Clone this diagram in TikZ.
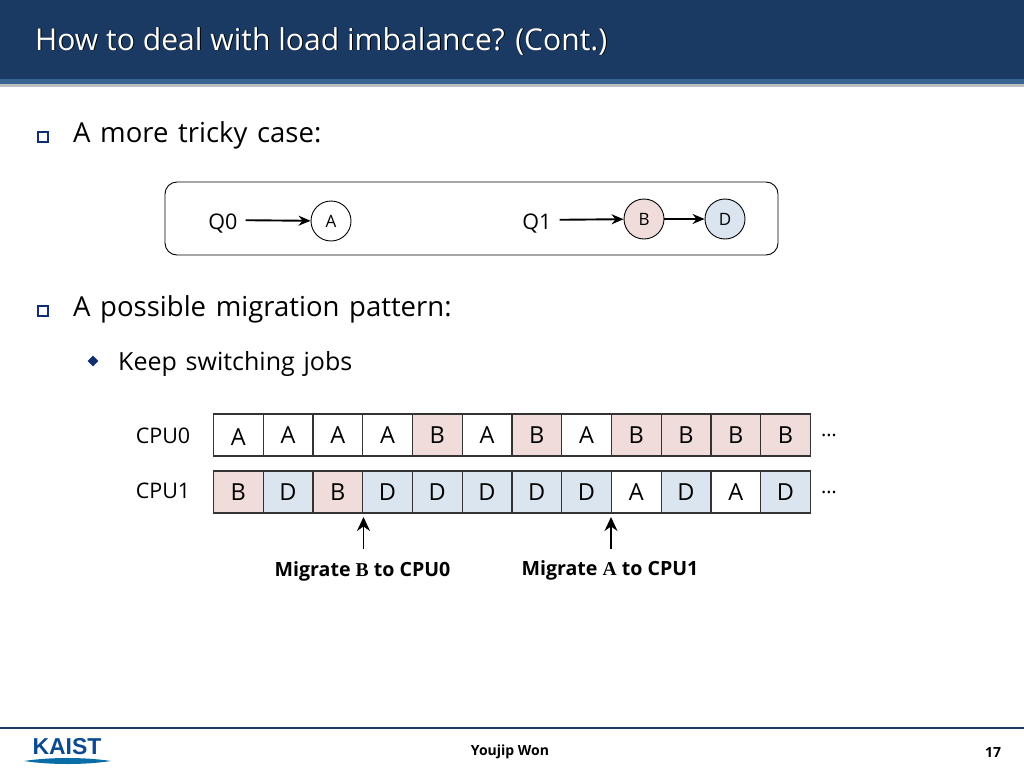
\documentclass[tikz,border=0pt]{standalone}
\usepackage{fontspec}
\setmainfont{Open Sans}
\newfontfamily\bodyfont[WordSpace=1.35]{Open Sans}
\newfontfamily\logofont{Liberation Sans}
\newfontfamily\codefont{Liberation Serif}
\usetikzlibrary{shapes.geometric,arrows.meta}
\definecolor{headblue}{HTML}{1A3A63}
\definecolor{bandblue}{HTML}{3A6592}
\definecolor{bulletblue}{HTML}{0F2F6E}
\definecolor{jobpink}{HTML}{F0DCDB}
\definecolor{jobblue}{HTML}{DBE5F0}
\definecolor{logoblue}{HTML}{0B4A91}
\tikzset{
  cellA/.style={draw=black!80,line width=1.2pt,minimum width=49.75pt,minimum height=42pt,inner sep=0pt,font=\fontsize{23.5}{23.5}\selectfont},
  cellB/.style={cellA,fill=jobpink},
  cellD/.style={cellA,fill=jobblue},
  job/.style={circle,draw=black,line width=.9pt,minimum size=40pt,inner sep=0pt,font=\fontsize{17}{17}\selectfont},
  body/.style={anchor=base west,inner sep=0pt,font=\bodyfont\fontsize{27.5}{27.5}\selectfont},
  label/.style={inner sep=0pt,font=\fontsize{21.5}{21.5}\selectfont},
  arrow/.style={-{Stealth[length=12pt,width=10pt]},line width=1.9pt},
  migarrow/.style={-{Stealth[length=14pt,width=13pt]},line width=1.5pt},
  migrate/.style={inner sep=0pt,font=\fontsize{19.6}{19.6}\selectfont\bfseries},
  squarebullet/.style={draw=bulletblue,line width=2.4pt,fill=white,minimum size=10.5pt,inner sep=0pt},
  footer/.style={inner sep=0pt,font=\fontsize{14}{14}\selectfont\bfseries},
}
\begin{document}
\begin{tikzpicture}[x=1pt,y=-1pt]
    \useasboundingbox (0,0) rectangle (1024,768);
    % header
    \fill[black!25] (0,84) rectangle (1024,87);
    \fill[headblue] (0,0) rectangle (1024,79);
    \fill[bandblue] (0,79) rectangle (1024,84);
    \node[anchor=base west,inner sep=0pt,text=black,font=\fontsize{30.1}{30.1}\selectfont] (titleshadow) at (36,51) {How to deal with load imbalance? (Cont.)};
    \node[anchor=base west,inner sep=0pt,text=white,font=\fontsize{30.1}{30.1}\selectfont] (title) at (35,50) {How to deal with load imbalance? (Cont.)};
    % bullets
    \node[squarebullet] (bullet1) at (43,137) {};
    \node[body] (case) at (73,142) {A more tricky case:};
    \node[squarebullet] (bullet2) at (43,311) {};
    \node[body] (pattern) at (73,316) {A possible migration pattern:};
    \node[diamond,fill=bulletblue,minimum size=11pt,inner sep=0pt] (bullet3) at (93,361) {};
    \node[anchor=base west,inner sep=0pt,font=\bodyfont\fontsize{25}{25}\selectfont] (keep) at (118,370) {Keep switching jobs};
    % queues
    \node[draw=black,line width=.9pt,rounded corners=12pt,minimum width=613pt,minimum height=73pt] (queues) at (471.5,218.5) {};
    \node[label,inner xsep=8pt] (Q0) at (223,220) {\raisebox{-2pt}[\height][0pt]{Q0}};
    \node[job] (A) at (331,221) {A};
    \node[label,inner xsep=8pt] (Q1) at (537,220) {\raisebox{-2pt}[\height][0pt]{Q1}};
    \node[job,fill=jobpink] (B) at (644,219) {B};
    \node[job,fill=jobblue] (D) at (725,219) {D};
    \draw[arrow] (Q0)--(A);
    \draw[arrow] (Q1)--(B);
    \draw[arrow] (B)--(D);
    % CPU0
    \node[label] (CPU0) at (163,436) {CPU0};
    \node[cellA] (a1) at (238.3,435) {\raisebox{-2pt}[\height][0pt]{A}};
    \node[cellA] (a2) at (288.05,435) {A};
    \node[cellA] (a3) at (337.8,435) {A};
    \node[cellA] (a4) at (387.55,435) {A};
    \node[cellB] (a5) at (437.3,435) {B};
    \node[cellA] (a6) at (487.05,435) {A};
    \node[cellB] (a7) at (536.8,435) {B};
    \node[cellA] (a8) at (586.55,435) {A};
    \node[cellB] (a9) at (636.3,435) {B};
    \node[cellB] (a10) at (686.05,435) {B};
    \node[cellB] (a11) at (735.8,435) {B};
    \node[cellB] (a12) at (785.55,435) {B};
    \node[inner sep=0pt,font=\fontsize{20}{20}\selectfont] (more0) at (829,435) {…};
    % CPU1
    \node[label] (CPU1) at (163,491) {CPU1};
    \node[cellB] (b1) at (238.3,492) {B};
    \node[cellD] (b2) at (288.05,492) {D};
    \node[cellB] (b3) at (337.8,492) {B};
    \node[cellD] (b4) at (387.55,492) {D};
    \node[cellD] (b5) at (437.3,492) {D};
    \node[cellD] (b6) at (487.05,492) {D};
    \node[cellD] (b7) at (536.8,492) {D};
    \node[cellD] (b8) at (586.55,492) {D};
    \node[cellA] (b9) at (636.3,492) {A};
    \node[cellD] (b10) at (686.05,492) {D};
    \node[cellA] (b11) at (735.8,492) {A};
    \node[cellD] (b12) at (785.55,492) {D};
    \node[inner sep=0pt,font=\fontsize{20}{20}\selectfont] (more1) at (829,492) {…};
    % migrations
    \coordinate (tipB) at (363.5,517);
    \coordinate (tailB) at (363.5,549);
    \coordinate (tipA) at (611,517);
    \coordinate (tailA) at (611,549);
    \draw[migarrow] (tailB)--(tipB);
    \draw[migarrow] (tailA)--(tipA);
    \node[migrate] (migB) at (362.5,571) {Migrate {\codefont B} to CPU0};
    \node[migrate] (migA) at (610,570.5) {Migrate {\codefont A} to CPU1};
    % footer
    \fill[headblue] (0,726.5) rectangle (1024,729);
    \node[inner sep=0pt,text=logoblue,font=\logofont\bfseries\fontsize{23}{23}\selectfont] (kaist) at (67,746.5) {KAIST};
    \fill[logoblue!80!cyan] (24,761) .. controls (50,757) and (85,757) .. (111,761) .. controls (85,765) and (50,765) .. cycle;
    \node[footer] (author) at (510,752) {Youjip Won};
    \node[footer] (page) at (993,752) {17};
\end{tikzpicture}
\end{document}
